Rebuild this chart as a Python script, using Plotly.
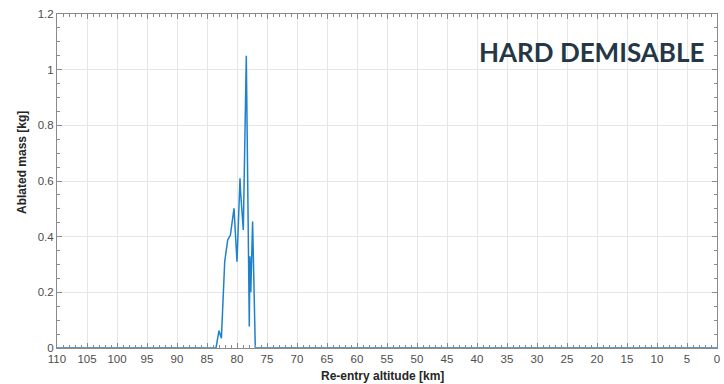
import plotly.graph_objects as go

# Re-entry altitude [km] (x) and ablated mass [kg] (y)
altitude = [110, 83.5, 83.0, 82.6, 82.05, 81.55, 81.1, 80.5, 80.0, 79.5, 79.4,
            78.95, 78.45, 78.3, 77.95, 77.85, 77.7, 77.4, 77.2, 76.95, 0]
mass = [0, 0, 0.062, 0.035, 0.31, 0.388, 0.406, 0.502, 0.31, 0.61, 0.56,
        0.424, 1.05, 0.747, 0.077, 0.33, 0.2, 0.454, 0.27, 0, 0]

x_ticks = list(range(110, -1, -5))
y_ticks = [0, 0.2, 0.4, 0.6, 0.8, 1, 1.2]
y_ticklabels = ["0", "0.2", "0.4", "0.6", "0.8", "1", "1.2"]

fig = go.Figure()
fig.add_trace(go.Scatter(x=altitude, y=mass, mode="lines",
                         line=dict(color="#1f80cc", width=1.5),
                         showlegend=False))

axis_common = dict(
    showline=True, linecolor="#8a8a8a", linewidth=1, mirror="ticks",
    ticks="inside", ticklen=5, tickcolor="#8a8a8a",
    showgrid=True, gridcolor="#e6e6e6", gridwidth=1,
    zeroline=False,
    tickfont=dict(family="Liberation Sans, Arial", size=11.5, color="#4d4d4d"),
)

fig.update_layout(
    width=724, height=384,
    margin=dict(l=57, r=4, t=14, b=36),
    plot_bgcolor="white", paper_bgcolor="white",
    xaxis=dict(range=[110, 0], tickmode="array", tickvals=x_ticks,
               ticktext=[str(v) for v in x_ticks],
               minor=dict(dtick=1, ticks="inside", ticklen=3, tickcolor="#8a8a8a",
                          showgrid=False),
               **axis_common),
    yaxis=dict(range=[0, 1.2], tickmode="array", tickvals=y_ticks,
               ticktext=y_ticklabels,
               minor=dict(dtick=0.05, ticks="inside", ticklen=3, tickcolor="#8a8a8a",
                          showgrid=False),
               **axis_common),
    annotations=[
        dict(text="<b>HARD DEMISABLE</b>", xref="paper", yref="paper",
             x=0.983, y=0.885, xanchor="right", yanchor="middle",
             showarrow=False,
             font=dict(family="Lato", size=26, color="#253746")),
        dict(text="<b>Re-entry altitude [km]</b>", xref="paper", yref="paper",
             x=(384 - 57) / 663, y=0, yshift=-28, xanchor="center", yanchor="middle",
             showarrow=False,
             font=dict(family="Liberation Sans, Arial", size=12, color="#262626")),
        dict(text="<b>Ablated mass [kg]</b>", xref="paper", yref="paper",
             x=0, xshift=-35, y=(348 - 163) / 334, textangle=-90,
             xanchor="center", yanchor="middle", showarrow=False,
             font=dict(family="Liberation Sans, Arial", size=12, color="#262626")),
    ],
)

fig.write_html("out.html")
